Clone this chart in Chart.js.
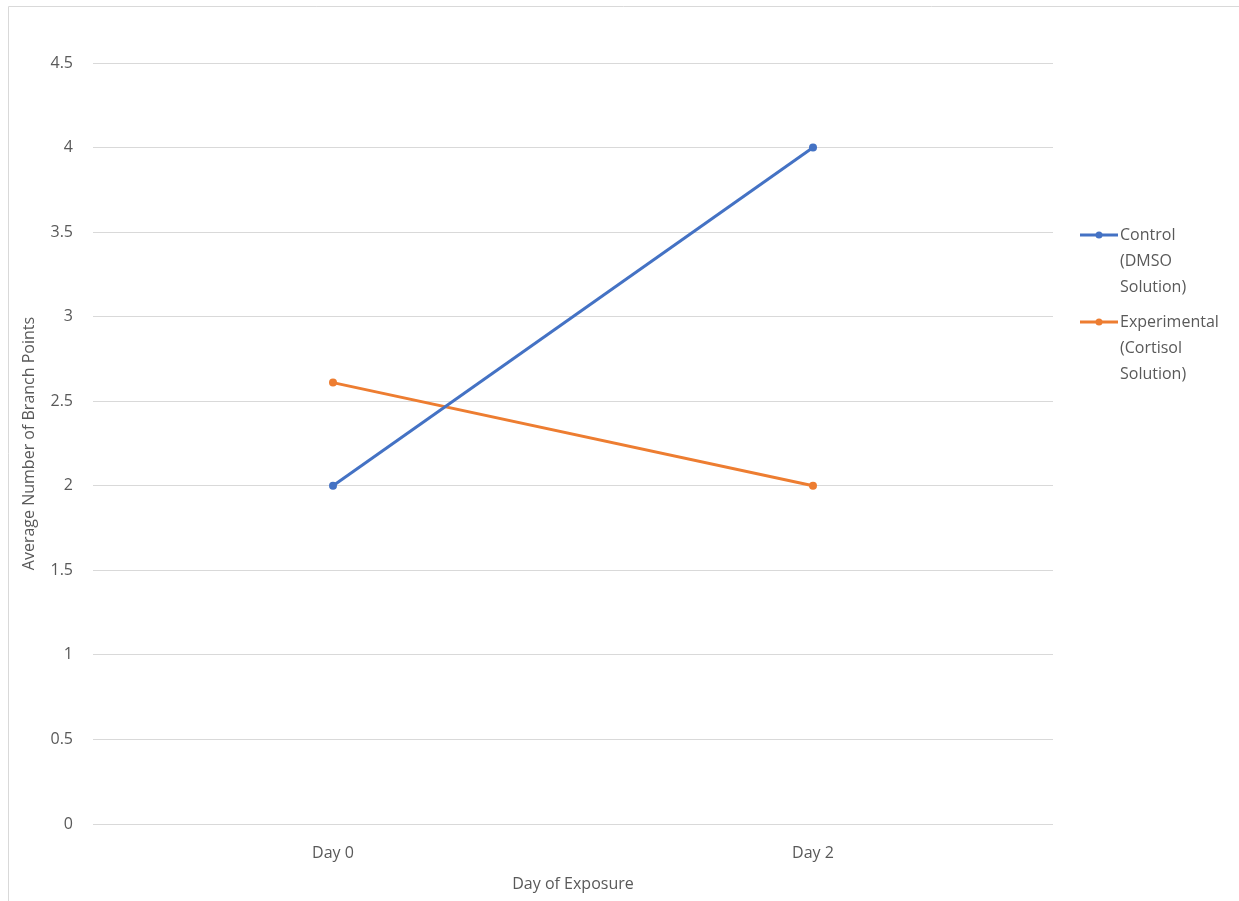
<!DOCTYPE html>
<html>
<head>
<meta charset="utf-8">
<script src="https://cdn.jsdelivr.net/npm/chart.js@4/dist/chart.umd.min.js"></script>
<style>
  html, body { margin: 0; padding: 0; background: #fff; }
  #wrap { width: 1239px; height: 901px; }
</style>
</head>
<body>
<div id="wrap"><canvas id="myChart" width="1239" height="901"></canvas></div>
<script>
// data
var days = ['Day 0', 'Day 2'];
var controlValues = [2, 4];
var experimentalValues = [2.61, 2];
var seriesNames = [
    ['Control', '(DMSO', 'Solution)'],
    ['Experimental', '(Cortisol', 'Solution)']
];
var seriesColors = ['#4472C4', '#ED7D31'];

var textColor = '#595959';
var gridColor = '#d9d9d9';
Chart.defaults.font.family = '"Open Sans", "Noto Sans", sans-serif';
Chart.defaults.font.size = 16;
Chart.defaults.color = textColor;

// frame round the chart and an Excel-like legend on the right
var frameAndLegend = {
    id: 'frameAndLegend',
    beforeDraw: function (chart) {
        var c = chart.ctx;
        c.save();
        c.strokeStyle = gridColor;
        c.lineWidth = 1;
        c.beginPath();
        c.moveTo(8.5, chart.height);
        c.lineTo(8.5, 6.5);
        c.lineTo(chart.width, 6.5);
        c.stroke();
        c.restore();
    },
    afterDraw: function (chart) {
        var c = chart.ctx;
        var x = chart.chartArea.right + 27;
        var y = 235;
        c.save();
        c.font = '16px "Open Sans", "Noto Sans", sans-serif';
        c.textBaseline = 'middle';
        c.textAlign = 'left';
        chart.data.datasets.forEach(function (ds) {
            c.strokeStyle = ds.borderColor;
            c.lineWidth = 3;
            c.beginPath();
            c.moveTo(x, y);
            c.lineTo(x + 38, y);
            c.stroke();
            c.fillStyle = ds.borderColor;
            c.beginPath();
            c.arc(x + 19, y, 3.5, 0, Math.PI * 2);
            c.fill();
            c.fillStyle = textColor;
            ds.label.forEach(function (line, i) {
                c.fillText(line, x + 40, y + i * 26);
            });
            y += 87;
        });
        c.restore();
    }
};

var ctx = document.getElementById('myChart').getContext('2d');
var myChart = new Chart(ctx, {
    type: 'line',
    data: {
        labels: days,
        datasets: [{
            label: seriesNames[0],
            data: controlValues,
            borderColor: seriesColors[0],
            backgroundColor: seriesColors[0],
            pointBackgroundColor: seriesColors[0],
            borderWidth: 3,
            pointRadius: 4,
            pointBorderWidth: 0,
            tension: 0
        }, {
            label: seriesNames[1],
            data: experimentalValues,
            borderColor: seriesColors[1],
            backgroundColor: seriesColors[1],
            pointBackgroundColor: seriesColors[1],
            borderWidth: 3,
            pointRadius: 4,
            pointBorderWidth: 0,
            tension: 0
        }]
    },
    options: {
        responsive: false,
        animation: false,
        layout: {
            padding: { top: 63, right: 186, bottom: 7, left: 0 }
        },
        plugins: {
            legend: { display: false },
            tooltip: { enabled: false }
        },
        scales: {
            x: {
                offset: true,
                grid: { display: false },
                border: { display: false },
                ticks: { padding: 12, color: textColor },
                title: {
                    display: true,
                    text: 'Day of Exposure',
                    color: textColor,
                    padding: { top: 8, bottom: 0 }
                },
                afterFit: function (scale) { scale.height = 70; }
            },
            y: {
                min: 0,
                max: 4.5,
                ticks: {
                    stepSize: 0.5,
                    padding: 20,
                    color: textColor,
                    callback: function (v) { return String(Math.round(v * 10) / 10); }
                },
                grid: { color: gridColor, drawTicks: false },
                border: { display: false },
                title: {
                    display: true,
                    text: 'Average Number of Branch Points',
                    color: textColor,
                    padding: { top: 20, bottom: 0 }
                },
                afterFit: function (scale) { scale.width = 93; }
            }
        }
    },
    plugins: [frameAndLegend]
});
</script>
</body>
</html>
